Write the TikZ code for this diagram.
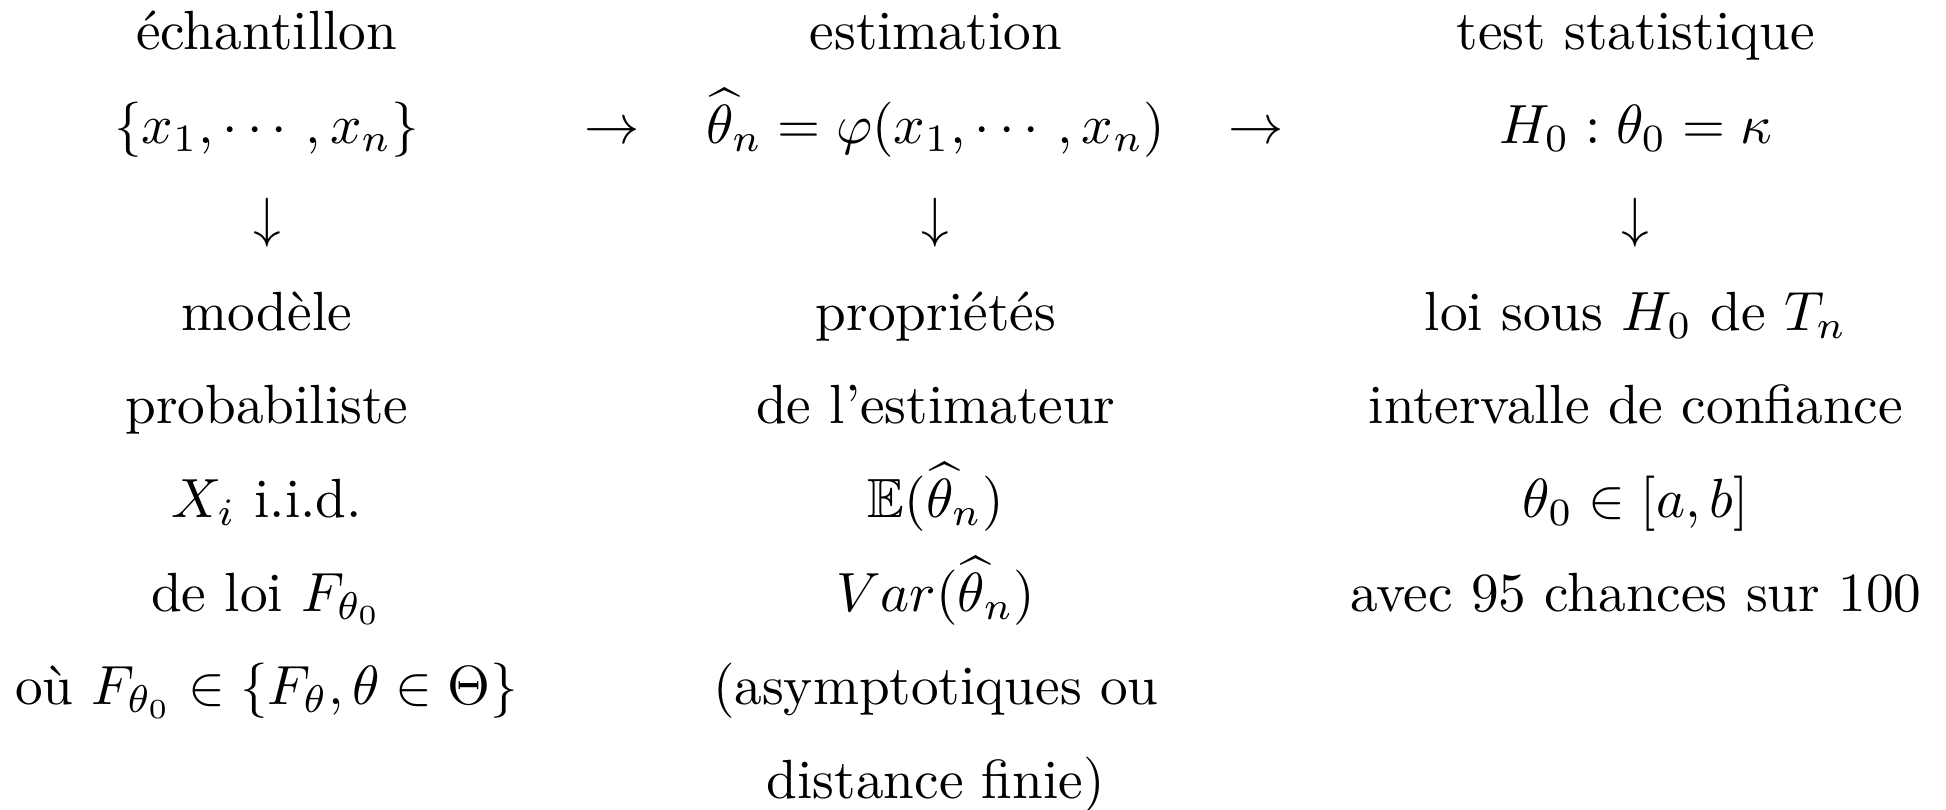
\documentclass[tikz,border=0pt]{standalone}
\usepackage{amsmath,amssymb}
\usepackage{fontspec}
\begin{document}
\begin{tikzpicture}[x=0.2247pt,y=-0.2247pt,
  txt/.style={inner sep=0pt, anchor=base, font=\fontsize{10}{12}\selectfont}]
\useasboundingbox (0,0) rectangle (1568,652);
\def\ra{40}
% column 1
\node[txt] (a1) at (215,40) {échantillon};
\node[txt] (a2) at (215,115.4) {$\{x_1,\cdots,x_n\}$};
\node[txt] (a3) at (215,190.8) {$\downarrow$};
\node[txt] (a4) at (215,266.2) {modèle};
\node[txt] (a5) at (215,341.6) {probabiliste};
\node[txt] (a6) at (215,417) {$X_i$ i.i.d.};
\node[txt] (a7) at (215,492.4) {de loi $F_{\theta_0}$};
\node[txt] (a8) at (215,567.8) {où $F_{\theta_0}\in\{F_\theta,\theta\in\Theta\}$};
% arrows between columns
\node[txt] (r1) at (493,115.4) {$\to$};
\node[txt] (r2) at (1012,115.4) {$\to$};
% column 2
\node[txt] (b1) at (754,40) {estimation};
\node[txt] (b2) at (754,115.4) {$\widehat{\theta}_n=\varphi(x_1,\cdots,x_n)$};
\node[txt] (b3) at (754,190.8) {$\downarrow$};
\node[txt] (b4) at (754,266.2) {propriétés};
\node[txt] (b5) at (754,341.6) {de l’estimateur};
\node[txt] (b6) at (754,417) {$\mathbb{E}(\widehat{\theta}_n)$};
\node[txt] (b7) at (754,492.4) {$Var(\widehat{\theta}_n)$};
\node[txt] (b8) at (754,567.8) {(asymptotiques ou};
\node[txt] (b9) at (754,643.2) {distance finie)};
% column 3
\node[txt] (c1) at (1318,40) {test statistique};
\node[txt] (c2) at (1318,115.4) {$H_0:\theta_0=\kappa$};
\node[txt] (c3) at (1318,190.8) {$\downarrow$};
\node[txt] (c4) at (1318,266.2) {loi sous $H_0$ de $T_n$};
\node[txt] (c5) at (1318,341.6) {intervalle de confiance};
\node[txt] (c6) at (1318,417) {$\theta_0\in[a,b]$};
\node[txt] (c7) at (1318,492.4) {avec 95 chances sur 100};
\end{tikzpicture}
\end{document}
